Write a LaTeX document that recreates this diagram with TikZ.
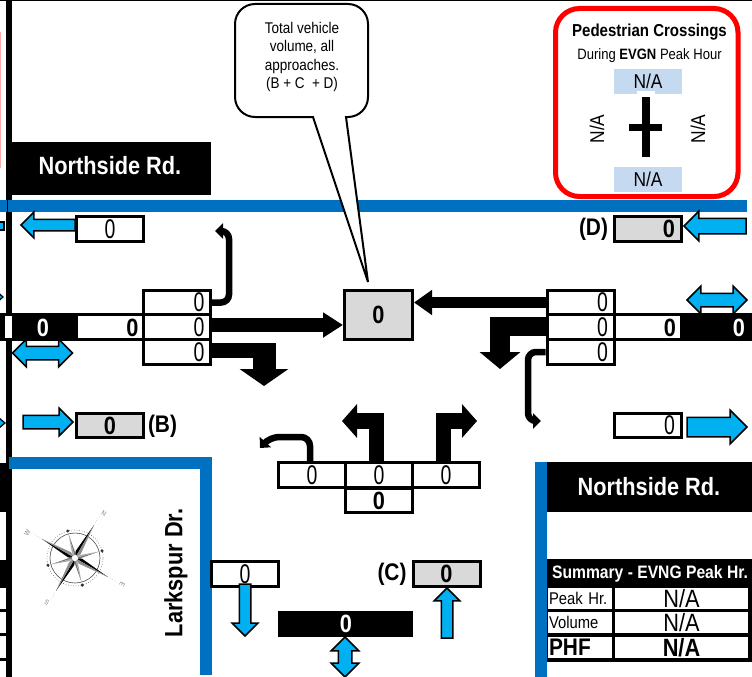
\documentclass[tikz,border=0pt]{standalone}
\usepackage{fontspec}
\usetikzlibrary{arrows.meta,shapes.arrows}
\newfontfamily\arialfont[FakeStretch=0.87]{Liberation Sans}
\newfontfamily\zerofont[FakeStretch=0.72]{Liberation Sans}
\newcommand{\fsz}[1]{\fontsize{#1}{#1}\selectfont}
\definecolor{roadblue}{HTML}{0070C0}
\definecolor{walkblue}{HTML}{00B0F0}
\definecolor{nabox}{HTML}{C5D9F1}
\definecolor{totgray}{HTML}{D9D9D9}
\tikzset{
  cell/.style={draw,line width=3pt,fill=white,inner sep=0pt,minimum width=67pt,minimum height=24.5pt,font=\zerofont\fsz{27}},
  cellright/.style={cell,text width=55pt,align=right},
  totbox/.style={cell,fill=totgray,font=\arialfont\bfseries\fsz{25}},
  totright/.style={totbox,text width=55pt,align=right},
  boldzero/.style={inner sep=0pt,font=\arialfont\bfseries\fsz{25}},
  whitezero/.style={boldzero,text=white},
  boldlabel/.style={inner sep=0pt,font=\arialfont\bfseries\fsz{24}},
  roadname/.style={inner sep=0pt,text=white,font=\arialfont\bfseries\fsz{25}},
  natext/.style={inner sep=0pt,font=\arialfont\fsz{20}},
  sumcell/.style={fill=white,inner sep=0pt,minimum height=21pt,font=\arialfont\fsz{17}},
  turnline/.style={line width=6.5pt,rounded corners=8pt,-{Triangle[length=8pt,width=15pt]}},
  bar/.style={line width=#1},
  bigtip/.style args={#1 and #2}{line width=#1,-{Triangle[length=17pt,width=#2]}},
  walkarrow/.style={single arrow,draw=black,line width=1.5pt,fill=walkblue,inner sep=0pt,outer sep=0pt,
    single arrow tip angle=90,single arrow head indent=0pt,anchor=tip},
  walkboth/.style={double arrow,draw=black,line width=1.5pt,fill=walkblue,inner sep=0pt,outer sep=0pt,
    double arrow tip angle=90,double arrow head indent=0pt},
  frag/.style={draw=black,line width=1.2pt,fill=walkblue}
}
\begin{document}
\begin{tikzpicture}[x=1pt,y=-1pt]
\useasboundingbox (0,0) rectangle (752,677);
\clip (0,0) rectangle (752,677);

% Page edges
\draw[line width=1.5pt] (0,0.5) -- (752,0.5);
\draw[color=red!35,line width=1pt] (0.5,32) -- (0.5,168);
\fill (6,0) rectangle (12,677);
\fill (12,142) rectangle (211,195);
\node[roadname] (nameNorth) at (110,166) {Northside Rd.};

% Road edges
\fill[roadblue] (0,200) rectangle (747,212);
\draw[line width=0.7pt] (7.5,200) -- (7.5,212);
\fill[roadblue] (9,457) rectangle (212,469);
\fill[roadblue] (200,457) rectangle (212,675);
\fill[roadblue] (535,462) rectangle (547,677);
\fill (547,462) rectangle (752,512);
\node[roadname] (nameSouth) at (649,487) {Northside Rd.};
\node[boldlabel,font=\arialfont\bfseries\fsz{25},rotate=90] (nameCross) at (176,573) {Larkspur Dr.};

% Cut off at the left edge
\fill[white] (6,316) rectangle (12,338);
\fill (0,313) rectangle (5,340);
\fill (0,463) rectangle (6,512);
\fill (0,560) rectangle (6,588);
\fill (0,609) rectangle (6,611.5);
\fill (0,633) rectangle (6,635.5);
\fill (0,658) rectangle (6,660.5);
\draw[frag] (-2,222) rectangle (4,230);
\draw[frag] (-8,287) -- (3,297) -- (-8,307) -- cycle;
\draw[frag] (-8,412) -- (5,423) -- (-8,434) -- cycle;

% Callout
\draw[fill=white,line width=2pt]
(368,282) -- (313,117) [rounded corners=20pt] -- (235,117) -- (235,4) -- (368,4) [sharp corners]
-- (368,97) arc[start angle=0,end angle=90,radius=20] -- (346,117) -- cycle;
\node[inner sep=0pt,align=center,font=\arialfont\fsz{15.5}] (calloutText) at (302,57)
{Total vehicle\\[3pt]volume, all\\[3pt]approaches.\\[3pt](B + C\ \ + D)};

% Pedestrian crossings
\draw[red,line width=5pt,rounded corners=24pt] (555.5,8.5) rectangle (738,196.5);
\node[inner sep=0pt,font=\arialfont\bfseries\fsz{17.3}] (pedTitle) at (649.5,32) {Pedestrian Crossings};
\node[inner sep=0pt,font=\arialfont\fsz{15}] (pedHour) at (649.5,56) {During \textbf{EVGN} Peak Hour};
\node[natext,fill=nabox,minimum width=68pt,minimum height=25pt] (pedN) at (648,81.5) {N/A};
\node[natext,fill=nabox,minimum width=68pt,minimum height=25pt] (pedS) at (648,179.5) {N/A};
\fill[white] (637,91) rectangle (655,94);
\node[natext,rotate=90] (pedW) at (597,129) {N/A};
\node[natext,rotate=90] (pedE) at (698,129) {N/A};
\fill (642,97) rectangle (649.5,157);
\fill (629,124) rectangle (662,131);

% Legs left and right
\draw[line width=3pt] (0,314.5) -- (142,314.5);
\draw[line width=3pt] (0,339.5) -- (142,339.5);
\draw[line width=3pt] (615,314.5) -- (752,314.5);
\draw[line width=3pt] (615,339.5) -- (752,339.5);
\fill (12,313) rectangle (78,341);
\fill (680,313) rectangle (752,341);
\node[whitezero] (pedWest) at (43,327.5) {0};
\node[boldzero] (appWest) at (132.5,327.5) {0};
\node[boldzero] (appEast) at (670,327.5) {0};
\node[whitezero] (pedEast) at (739,327.5) {0};

% Left table
\node[cellright] (ebL) at (177,302.5) {0};
\node[cellright] (ebT) at (177,327) {0};
\node[cellright] (ebR) at (177,352) {0};

% Right table
\node[cellright] (wbL) at (580.5,302.5) {0};
\node[cellright] (wbT) at (580.5,327) {0};
\node[cellright] (wbR) at (580.5,352) {0};

% Lower table
\node[cell] (sbL) at (312,475) {0};
\node[cell] (sbT) at (379,475) {0};
\node[cell] (sbR) at (446,475) {0};
\node[cell,font=\arialfont\bfseries\fsz{25}] (sbTot) at (379,500.5) {0};

% Total
\node[totbox,minimum width=68pt,minimum height=49pt] (tot) at (378.5,315) {0};

% Volume boxes
\node[cell] (wbOut) at (110,229) {0};
\node[totbox] (ebIn) at (110,425.5) {0};
\node[totright] (wbIn) at (647.5,229) {0};
\node[cellright] (ebOut) at (647.5,425.5) {0};
\node[cell] (sbOut) at (245,574) {0};
\node[totbox] (nbIn) at (446.5,574) {0};
\fill (278,611) rectangle (413,637);
\node[whitezero] (pedSouth) at (346,623.5) {0};

\node[boldlabel] (labB) at (162.5,426) {(B)};
\node[boldlabel] (labD) at (593.5,229) {(D)};
\node[boldlabel] (labC) at (392,574) {(C)};

% Turns from the left table
\draw[turnline] (ebL.east) -- (229,302.5) -- (229,231) -- (215,231);
\draw[bigtip=14pt and 24pt,-{Triangle[length=20pt,width=24pt]}]
([yshift=2pt]ebT.east) -- ([yshift=2pt]ebT.east -| tot.west);
\draw[bar=15pt] ([yshift=1.5pt]ebR.east) -- (275,350.5);
\draw[bigtip=23pt and 48pt] (264,343) -- (264,386);

% Turns from the right table
\draw[line width=10.5pt,-{Triangle[length=18pt,width=24pt]}] (wbL.west) -- (wbL.west -| tot.east);
\draw[bar=19pt] ([yshift=0.5pt]wbT.west) -- (490,326.5);
\draw[bigtip=20pt and 40pt] (500,317) -- (500,369);
\draw[turnline] (wbR.west) -- (528,352) -- (528,421) -- (541,421);

% Turns from the lower table
\draw[turnline,rounded corners=9pt] ([xshift=-2pt]sbL.north) -- (310,437) -- (270,437) -- (260,448);
\draw[bar=15pt] ([xshift=-2.5pt]sbT.north) -- (376.5,413);
\draw[bigtip=16pt and 33pt,-{Triangle[length=15pt,width=33pt]}] (384,421) -- (342,421);
\draw[bar=15pt] ([xshift=-2.5pt]sbR.north) -- (443.5,413);
\draw[bigtip=16pt and 33pt,-{Triangle[length=15pt,width=33pt]}] (436,421) -- (477,421);

% Walking arrows
\node[walkarrow,shape border rotate=180,minimum height=54pt,minimum width=24pt,inner ysep=5pt] (arrWbOut) at (21,225) {};
\node[walkarrow,minimum height=50pt,minimum width=26pt,inner ysep=6pt] (arrEbIn) at (73,422) {};
\node[walkarrow,shape border rotate=180,minimum height=62pt,minimum width=26pt,inner ysep=7pt] (arrWbIn) at (684,226) {};
\node[walkarrow,minimum height=60pt,minimum width=30pt,inner ysep=9pt] (arrEbOut) at (747,427) {};
\node[walkarrow,shape border rotate=270,minimum height=52pt,minimum width=24pt,inner xsep=5pt] (arrSbOut) at (245,636) {};
\node[walkarrow,shape border rotate=90,minimum height=50pt,minimum width=22pt,inner xsep=5pt] (arrNbIn) at (447,588) {};
\node[walkboth,minimum height=60pt,minimum width=22pt,inner ysep=6pt] (bothWest) at (42.5,353) {};
\node[walkboth,minimum height=60pt,minimum width=20pt,inner ysep=6pt] (bothEast) at (717,300) {};
\node[walkboth,shape border rotate=90,minimum height=40pt,minimum width=24pt,inner xsep=6pt] (bothSouth) at (345,657) {};

% Compass
\begin{scope}[shift={(75,558)},x=1pt,y=1pt]
\draw[line width=0.6pt,black!70] (0,0) circle (25);
\draw[line width=0.6pt,black!70,dotted] (0,0) circle (28);
\foreach \ang in {15,105,195,285} {
  \fill[black!80] (\ang:28) circle (1.7);
}
\foreach \ang in {60,150,240,330} {
  \draw[black!30,line width=0.5pt,dotted] (\ang:38) -- (\ang:49);
  \fill[black!55] (0,0) -- (\ang+45:25) -- (\ang+30:6) -- cycle;
  \fill[black!35] (0,0) -- (\ang+45:25) -- (\ang+60:6) -- cycle;
  \fill[black] (0,0) -- (\ang:38) -- (\ang+25:7) -- cycle;
  \fill[black!45] (0,0) -- (\ang:38) -- (\ang-25:7) -- cycle;
}
\fill[white] (0,0) circle (3.5);
\draw[black!60,line width=0.4pt] (0,0) circle (3.5);
\node[inner sep=0pt,text=black!50,font=\arialfont\fsz{7},rotate=-30] (compN) at (57:53) {N};
\node[inner sep=0pt,text=black!50,font=\arialfont\fsz{7},rotate=-120] (compE) at (-29:54) {E};
\node[inner sep=0pt,text=black!50,font=\arialfont\fsz{7},rotate=150] (compS) at (238:53) {S};
\node[inner sep=0pt,text=black!50,font=\arialfont\fsz{7},rotate=60] (compW) at (152:54) {W};
\end{scope}

% Summary
\fill (547,559) rectangle (752,662);
\node[inner sep=0pt,text=white,font=\arialfont\bfseries\fsz{18}] (sumTitle) at (650,574) {Summary - EVNG Peak Hr.};
\node[sumcell,minimum width=64pt,text width=62pt,align=left] (sumPeak) at (580,598.5) {Peak Hr.};
\node[sumcell,minimum width=64pt,text width=62pt,align=left] (sumVol) at (580,622.5) {Volume};
\node[sumcell,minimum width=64pt,text width=62pt,align=left,font=\arialfont\bfseries\fsz{24}] (sumPhf) at (580,647.5) {PHF};
\node[sumcell,minimum width=133pt,font=\arialfont\fsz{25}] (sumPeakVal) at (681.5,598.5) {N/A};
\node[sumcell,minimum width=133pt,font=\arialfont\fsz{25}] (sumVolVal) at (681.5,622.5) {N/A};
\node[sumcell,minimum width=133pt,font=\arialfont\bfseries\fsz{25}] (sumPhfVal) at (681.5,647.5) {N/A};

\end{tikzpicture}
\end{document}
